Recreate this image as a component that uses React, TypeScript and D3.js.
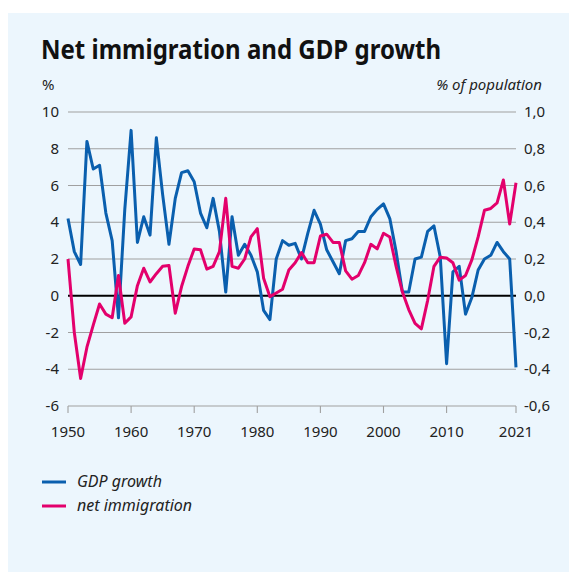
import React from "react";
import * as d3 from "d3";

const startYear = 1950;
const endYear = 2021;
const years: number[] = d3.range(startYear, endYear + 1);

// GDP growth, % (left axis)
const gdpGrowth: number[] = [
  4.2, 2.4, 1.7, 8.4, 6.9, 7.1, 4.5, 3.0, -1.2, 4.7,
  9.0, 2.9, 4.3, 3.3, 8.6, 5.5, 2.8, 5.3, 6.7, 6.8,
  6.2, 4.5, 3.7, 5.3, 3.5, 0.2, 4.3, 2.2, 2.8, 2.2,
  1.3, -0.8, -1.3, 2.0, 3.0, 2.75, 2.85, 2.0, 3.4, 4.65,
  3.9, 2.5, 1.85, 1.2, 3.0, 3.1, 3.5, 3.5, 4.3, 4.7,
  5.0, 4.2, 2.4, 0.2, 0.2, 2.0, 2.1, 3.5, 3.8, 2.1,
  -3.7, 1.3, 1.6, -1.0, -0.1, 1.4, 2.0, 2.2, 2.9, 2.4,
  2.0, -3.9,
];

// Net immigration, % of population (right axis)
const netImmigration: number[] = [
  0.2, -0.2, -0.45, -0.28, -0.16, -0.045, -0.1, -0.12, 0.11, -0.15,
  -0.115, 0.055, 0.15, 0.075, 0.12, 0.16, 0.165, -0.095, 0.05, 0.16,
  0.255, 0.25, 0.145, 0.16, 0.24, 0.53, 0.16, 0.15, 0.2, 0.32,
  0.365, 0.095, -0.005, 0.015, 0.035, 0.14, 0.18, 0.235, 0.18, 0.18,
  0.325, 0.335, 0.29, 0.29, 0.135, 0.09, 0.11, 0.18, 0.28, 0.255,
  0.34, 0.32, 0.16, 0.02, -0.075, -0.15, -0.18, -0.025, 0.16, 0.21,
  0.205, 0.18, 0.085, 0.11, 0.195, 0.32, 0.465, 0.475, 0.505, 0.63,
  0.39, 0.615,
];

const leftTicks: number[] = [-6, -4, -2, 0, 2, 4, 6, 8, 10];
const rightTicks: number[] = [-0.6, -0.4, -0.2, 0, 0.2, 0.4, 0.6, 0.8, 1.0];
const xTicks: number[] = [1950, 1960, 1970, 1980, 1990, 2000, 2010, 2021];

const title = "Net immigration and GDP growth";
const leftUnit = "%";
const rightUnit = "% of population";
const legendItems = [
  { label: "GDP growth", color: "#0a5fae" },
  { label: "net immigration", color: "#e3006c" },
];

const FONT = "'Noto Sans', sans-serif";

export default function App() {
  const width = 569;
  const height = 572;
  const x = d3.scaleLinear().domain([startYear, endYear]).range([68, 516]);
  const yL = d3.scaleLinear().domain([-6, 10]).range([406, 112]);
  const yR = d3.scaleLinear().domain([-0.6, 1.0]).range([406, 112]);

  const gdpLine = d3
    .line<number>()
    .x((_, i) => x(years[i]))
    .y((d) => yL(d));
  const immLine = d3
    .line<number>()
    .x((_, i) => x(years[i]))
    .y((d) => yR(d));

  const fmtR = (v: number) => {
    const s = Math.abs(v).toFixed(1).replace(".", ",");
    return (v < 0 ? "-" : "") + s;
  };

  return (
    <svg
      width={width}
      height={height}
      style={{ position: "absolute", left: 0, top: 0 }}
      fontFamily={FONT}
    >
      <rect x={0} y={0} width={width} height={height} fill="#ffffff" />
      <rect x={8} y={13} width={width - 8} height={height - 13} fill="#ecf6fd" />

      <text x={41} y={59} fontSize={26} fontWeight={700} fill="#111" textLength={400} lengthAdjust="spacingAndGlyphs">
        {title}
      </text>
      <text x={42} y={90} fontSize={15} fill="#222">
        {leftUnit}
      </text>
      <text x={542} y={90} fontSize={15} fontStyle="italic" fill="#222" textAnchor="end">
        {rightUnit}
      </text>

      {leftTicks.map((t) => (
        <g key={"g" + t}>
          <line
            x1={x(startYear)}
            x2={x(endYear)}
            y1={yL(t)}
            y2={yL(t)}
            stroke={t === 0 ? "#000" : "#a0a0a0"}
            strokeWidth={t === 0 ? 2.2 : 1.1}
          />
          <text x={59} y={yL(t) + 5} fontSize={15} fill="#222" textAnchor="end">
            {t}
          </text>
        </g>
      ))}
      {rightTicks.map((t) => (
        <text key={"r" + t} x={524} y={yR(t) + 5} fontSize={15} fill="#222">
          {fmtR(t)}
        </text>
      ))}

      {xTicks.map((t) => (
        <g key={"x" + t}>
          <line x1={x(t)} x2={x(t)} y1={yL(-6)} y2={yL(-6) + 7} stroke="#a0a0a0" strokeWidth={1.1} />
          <text x={x(t)} y={437} fontSize={15} fill="#222" textAnchor="middle">
            {t}
          </text>
        </g>
      ))}

      <path d={gdpLine(gdpGrowth) || ""} fill="none" stroke={legendItems[0].color} strokeWidth={3} strokeLinejoin="round" />
      <path d={immLine(netImmigration) || ""} fill="none" stroke={legendItems[1].color} strokeWidth={3} strokeLinejoin="round" />

      {legendItems.map((item, i) => (
        <g key={item.label}>
          <line x1={42} x2={66} y1={482 + i * 24} y2={482 + i * 24} stroke={item.color} strokeWidth={3} />
          <text x={77} y={487 + i * 24} fontSize={16} fontStyle="italic" fill="#222">
            {item.label}
          </text>
        </g>
      ))}
    </svg>
  );
}
